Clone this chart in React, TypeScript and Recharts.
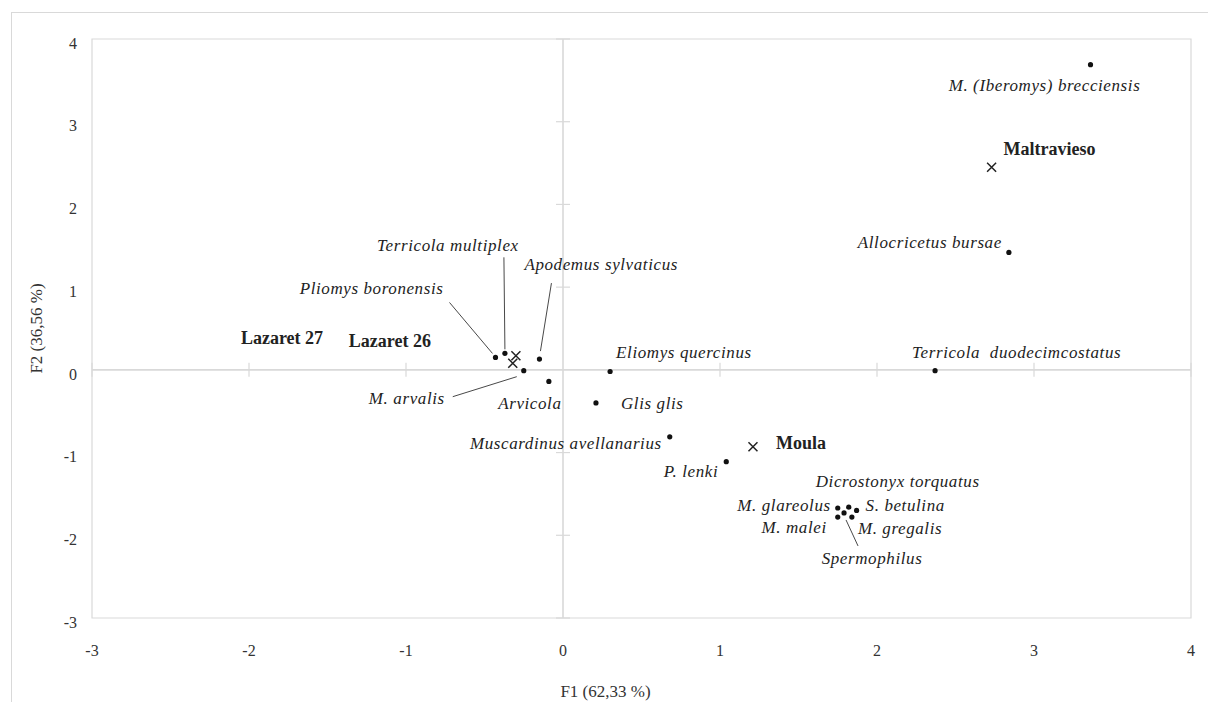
import React from 'react';
import {
  ScatterChart,
  Scatter,
  XAxis,
  YAxis,
  ReferenceLine,
  ReferenceArea,
  ReferenceDot,
  Label
} from 'recharts';

// species scores on the first two factors
const speciesNames = [
  'M. (Iberomys) brecciensis',
  'Allocricetus bursae',
  'Terricola  duodecimcostatus',
  'Terricola multiplex',
  'Apodemus sylvaticus',
  'Pliomys boronensis',
  'M. arvalis',
  'Arvicola',
  'Eliomys quercinus',
  'Glis glis',
  'Muscardinus avellanarius',
  'P. lenki',
  'Dicrostonyx torquatus',
  'M. glareolus',
  'S. betulina',
  'M. malei',
  'M. gregalis',
  'Spermophilus'
];
const speciesF1 = [3.36, 2.84, 2.37, -0.37, -0.15, -0.43, -0.25, -0.09, 0.3, 0.21, 0.68, 1.04, 1.82, 1.75, 1.87, 1.75, 1.84, 1.79];
const speciesF2 = [3.69, 1.42, -0.01, 0.2, 0.13, 0.15, -0.01, -0.14, -0.02, -0.4, -0.81, -1.11, -1.66, -1.67, -1.7, -1.78, -1.78, -1.73];

// sites
const siteNames = ['Maltravieso', 'Moula', 'Lazaret 27', 'Lazaret 26'];
const siteF1 = [2.73, 1.21, -0.3, -0.32];
const siteF2 = [2.45, -0.93, 0.17, 0.08];

const axisTicks = [-3, -2, -1, 0, 1, 2, 3, 4];

// where each label sits, in pixels from its point; lead = leader line
type LabelPos = { dx: number; dy: number; anchor: 'start' | 'middle' | 'end'; lead?: number[] };
const labelLayout: Record<string, LabelPos> = {
  'M. (Iberomys) brecciensis': { dx: -46, dy: 20, anchor: 'middle' },
  'Allocricetus bursae': { dx: -7, dy: -10, anchor: 'end' },
  'Terricola  duodecimcostatus': { dx: -23, dy: -19, anchor: 'start' },
  'Terricola multiplex': { dx: -57, dy: -108, anchor: 'middle', lead: [0, -4, -1, -96] },
  'Apodemus sylvaticus': { dx: -15, dy: -95, anchor: 'start', lead: [1, -8, 12, -76] },
  'Pliomys boronensis': { dx: -52, dy: -69, anchor: 'end', lead: [-3, -4, -46, -55] },
  'M. arvalis': { dx: -79, dy: 27, anchor: 'end', lead: [-7, 6, -71, 26] },
  Arvicola: { dx: -19, dy: 22, anchor: 'middle' },
  'Eliomys quercinus': { dx: 6, dy: -19, anchor: 'start' },
  'Glis glis': { dx: 25, dy: 0, anchor: 'start' },
  'Muscardinus avellanarius': { dx: -8, dy: 6, anchor: 'end' },
  'P. lenki': { dx: -8, dy: 9, anchor: 'end' },
  'Dicrostonyx torquatus': { dx: -33, dy: -26, anchor: 'start' },
  'M. glareolus': { dx: -7, dy: -3, anchor: 'end' },
  'S. betulina': { dx: 9, dy: -5, anchor: 'start' },
  'M. malei': { dx: -11, dy: 10, anchor: 'end' },
  'M. gregalis': { dx: 6, dy: 11, anchor: 'start' },
  Spermophilus: { dx: 28, dy: 45, anchor: 'middle', lead: [2, 7, 14, 33] },
  Maltravieso: { dx: 12, dy: -19, anchor: 'start' },
  Moula: { dx: 23, dy: -4, anchor: 'start' },
  'Lazaret 27': { dx: -275, dy: -18, anchor: 'start' },
  'Lazaret 26': { dx: -164, dy: -23, anchor: 'start' }
};

const speciesData = speciesNames.map((name, i) => ({ name, f1: speciesF1[i], f2: speciesF2[i] }));
const siteData = siteNames.map((name, i) => ({ name, f1: siteF1[i], f2: siteF2[i] }));

const FONT = '"Liberation Serif", "DejaVu Serif", serif';
const GRID = '#d9d9d9';

const PointLabel = ({ cx, cy, name, bold }: any) => {
  const l = labelLayout[name];
  if (!l) return null;
  return (
    <>
      {l.lead && (
        <line
          x1={cx + l.lead[0]}
          y1={cy + l.lead[1]}
          x2={cx + l.lead[2]}
          y2={cy + l.lead[3]}
          stroke="#333"
          strokeWidth={0.9}
        />
      )}
      <text
        x={cx + l.dx}
        y={cy + l.dy}
        dy="0.35em"
        textAnchor={l.anchor}
        fontFamily={FONT}
        fontSize={bold ? 18 : 17}
        fontStyle={bold ? 'normal' : 'italic'}
        fontWeight={bold ? 'bold' : 'normal'}
        letterSpacing={bold ? 0 : 0.6}
        fill="#222"
        style={{ whiteSpace: 'pre' }}
      >
        {name}
      </text>
    </>
  );
};

const SpeciesShape = (props: any) => {
  const { cx, cy, payload } = props;
  return (
    <g>
      <PointLabel cx={cx} cy={cy} name={payload.name} />
      <circle cx={cx} cy={cy} r={2.6} fill="#111" />
    </g>
  );
};

const SiteShape = (props: any) => {
  const { cx, cy, payload } = props;
  const s = 4.5;
  return (
    <g>
      <PointLabel cx={cx} cy={cy} name={payload.name} bold />
      <path
        d={`M${cx - s},${cy - s}L${cx + s},${cy + s}M${cx - s},${cy + s}L${cx + s},${cy - s}`}
        stroke="#222"
        strokeWidth={1.5}
      />
    </g>
  );
};

const XTickMark = (props: any) => (
  <line x1={props.cx} x2={props.cx} y1={props.cy - 7} y2={props.cy + 7} stroke={GRID} strokeWidth={1.2} />
);
const YTickMark = (props: any) => (
  <line x1={props.cx - 7} x2={props.cx + 7} y1={props.cy} y2={props.cy} stroke={GRID} strokeWidth={1.2} />
);

export default function App() {
  const tickStyle = { fontFamily: FONT, fontSize: 16, fill: '#333' };
  return (
    <div style={{ position: 'absolute', left: 0, top: 0, width: 1208, height: 702, background: '#fff' }}>
      <div
        style={{
          position: 'absolute',
          left: 11,
          top: 12,
          width: 1300,
          height: 800,
          borderLeft: `1px solid ${GRID}`,
          borderTop: `1px solid ${GRID}`
        }}
      />
      <div style={{ position: 'absolute', left: 0, top: 0 }}>
        <ScatterChart width={1208} height={702} margin={{ top: 39, right: 17, left: 0, bottom: 0 }}>
          <XAxis
            type="number"
            dataKey="f1"
            domain={[-3, 4]}
            ticks={axisTicks}
            allowDataOverflow
            axisLine={false}
            tickLine={false}
            tickSize={0}
            tickMargin={27}
            height={84}
            tick={tickStyle}
          >
            <Label
              value="F1 (62,33 %)"
              position="insideBottom"
              offset={5}
              dx={-36}
              style={{ fontFamily: FONT, fontSize: 17, fill: '#333' }}
            />
          </XAxis>
          <YAxis
            type="number"
            dataKey="f2"
            domain={[-3, 4]}
            ticks={axisTicks}
            allowDataOverflow
            axisLine={false}
            tickLine={false}
            tickSize={0}
            tickMargin={15}
            width={92}
            tick={{ ...tickStyle, dy: 4 }}
          >
            <Label
              value="F2 (36,56 %)"
              angle={-90}
              position="insideLeft"
              offset={36}
              style={{ fontFamily: FONT, fontSize: 17, fill: '#333', textAnchor: 'middle' }}
            />
          </YAxis>
          <ReferenceArea x1={-3} x2={4} y1={-3} y2={4} fill="none" stroke={GRID} strokeWidth={1.2} />
          <ReferenceLine x={0} stroke={GRID} strokeWidth={1.6} />
          <ReferenceLine y={0} stroke={GRID} strokeWidth={1.6} />
          {axisTicks
            .filter((t) => t !== 0)
            .map((t) => (
              <ReferenceDot key={`xt${t}`} x={t} y={0} shape={XTickMark} />
            ))}
          {axisTicks
            .filter((t) => t !== 0)
            .map((t) => (
              <ReferenceDot key={`yt${t}`} x={0} y={t} shape={YTickMark} />
            ))}
          <Scatter data={speciesData} shape={SpeciesShape} isAnimationActive={false} />
          <Scatter data={siteData} shape={SiteShape} isAnimationActive={false} />
        </ScatterChart>
      </div>
    </div>
  );
}
